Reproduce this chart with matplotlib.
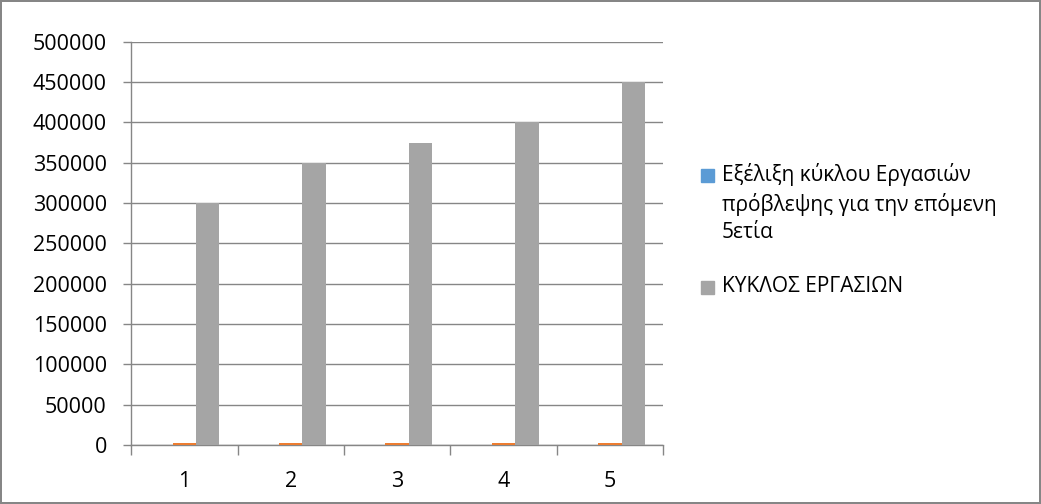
import numpy as np
import matplotlib.pyplot as plt
from matplotlib.patches import Rectangle

plt.rcParams['font.family'] = ['Open Sans', 'DejaVu Sans']

# data
categories = ['1', '2', '3', '4', '5']
forecast = [0, 0, 0, 0, 0]                      # Εξέλιξη κύκλου Εργασιών ... (not visible)
years = [2017, 2018, 2019, 2020, 2021]          # tiny orange bars near zero
turnover = [300000, 350000, 375000, 400000, 450000]  # ΚΥΚΛΟΣ ΕΡΓΑΣΙΩΝ

legend_lines = ['Εξέλιξη κύκλου Εργασιών', 'πρόβλεψης για την επόμενη', '5ετία']
legend_gray = 'ΚΥΚΛΟΣ ΕΡΓΑΣΙΩΝ'

blue = '#5B9BD5'
orange = '#ED7D31'
gray = '#A5A5A5'
line_col = '#868686'

W, H = 1041, 504
fig = plt.figure(figsize=(W / 100, H / 100), dpi=100)
fig.patch.set_edgecolor(line_col)
fig.patch.set_linewidth(1.5)
ax = fig.add_axes([0.126, 0.117, 0.511, 0.800])

x = np.arange(1, len(categories) + 1)
w = 0.22
ax.bar(x - w, forecast, w, color=blue, zorder=3)
ax.bar(x, years, w, color=orange, zorder=3)
ax.bar(x + w, turnover, w, color=gray, zorder=3)

ax.set_xlim(0.5, len(categories) + 0.5)
ax.set_ylim(0, 500000)
ax.set_yticks(np.arange(0, 500001, 50000))
ax.yaxis.grid(True, color=line_col, linewidth=1, zorder=0)

# tick marks at category boundaries, labels at the centres
ax.set_xticks(np.arange(0.5, len(categories) + 1, 1))
ax.set_xticklabels([])
ax.set_xticks(x, minor=True)
ax.set_xticklabels(categories, minor=True)
ax.tick_params(axis='x', which='major', length=7, color=line_col, width=1)
ax.tick_params(axis='x', which='minor', length=0, pad=19, labelsize=15.5)
ax.tick_params(axis='y', length=5.5, color=line_col, width=1, labelsize=15.5, pad=12)

for s in ['top', 'right']:
    ax.spines[s].set_visible(False)
for s in ['left', 'bottom']:
    ax.spines[s].set_color(line_col)
    ax.spines[s].set_linewidth(1)

# legend drawn by hand (square sits on first line of the wrapped label)
sq = 13
tx = 722 / W
for i, line in enumerate(legend_lines):
    fig.text(tx, 1 - (175 + 29 * i) / H, line, fontsize=15, va='center', ha='left')
fig.text(tx, 1 - 287 / H, legend_gray, fontsize=15, va='center', ha='left')
for yc, col in [(175, blue), (287, gray)]:
    fig.patches.append(Rectangle((701 / W, 1 - (yc + sq / 2) / H), sq / W, sq / H,
                                 transform=fig.transFigure, color=col))

fig.savefig('out.png', dpi=100, edgecolor=fig.get_edgecolor())
